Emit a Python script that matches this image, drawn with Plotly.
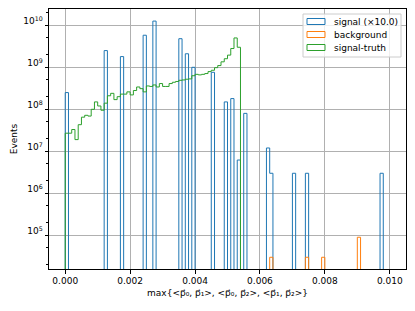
import numpy as np
import plotly.graph_objects as go

# ---------------- data ----------------
bin_edges = np.linspace(0.0, 0.01, 101)   # 100 bins

signal_bins = [0, 12, 17, 24, 27, 35, 37, 39, 45, 49, 51, 53, 55, 62, 63, 70, 74, 97]
signal_counts = [2.5e8, 2.5e9, 1.8e9, 5.8e9, 1.26e10, 4.8e9, 2.1e9, 1.0e9, 7.6e8,
                 1.5e8, 1.8e8, 6.2e6, 8.0e7, 1.2e7, 3.0e6, 3.0e6, 3.0e6, 3.0e6]

background_bins = [63, 74, 79, 90]
background_counts = [3.0e4, 3.0e4, 3.0e4, 9.0e4]

truth_counts = [2.7e7, 2.7e7, 3.3e7, 1.9e7, 4.3e7, 6.5e7, 7.2e7, 6.9e7, 1.0e8, 1.5e8,
                1.2e8, 9.5e7, 1.4e8, 2.1e8, 2.4e8, 1.7e8, 2.0e8, 2.3e8, 2.3e8, 2.6e8,
                2.2e8, 2.8e8, 3.4e8, 3.1e8, 2.6e8, 3.6e8, 3.5e8, 3.8e8, 3.4e8, 4.1e8,
                3.5e8, 3.5e8, 4.1e8, 4.4e8, 4.6e8, 4.9e8, 5.0e8, 5.2e8, 5.3e8, 6.3e8,
                6.8e8, 6.6e8, 6.8e8, 7.1e8, 7.9e8, 8.5e8, 9.8e8, 1.1e9, 1.35e9, 1.6e9,
                1.95e9, 2.8e9, 5.0e9, 3.0e9]

series_names = ["signal (×10.0)", "background", "signal-truth"]
series_colors = ["#1f77b4", "#ff7f0e", "#2ca02c"]

x_tick_vals = [0.000, 0.002, 0.004, 0.006, 0.008, 0.010]
x_tick_text = ["0.000", "0.002", "0.004", "0.006", "0.008", "0.010"]
y_tick_vals = [1e5, 1e6, 1e7, 1e8, 1e9, 1e10]
y_tick_text = ["10<sup>5</sup>", "10<sup>6</sup>", "10<sup>7</sup>", "10<sup>8</sup>",
               "10<sup>9</sup>", "10<sup>10</sup>"]

x_title = "max{<p\u20d7₀, p\u20d7₁>, <p\u20d7₀, p\u20d7₂>, <p\u20d7₁, p\u20d7₂>}"
y_title = "Events"

FLOOR = 1.0  # stands in for empty bins on the log axis (below visible range)


def full_counts(bins, counts):
    arr = np.zeros(len(bin_edges) - 1)
    arr[list(bins)] = counts
    return arr


def step_xy(counts):
    c = np.where(np.asarray(counts) > 0, counts, FLOOR)
    xs = np.concatenate([[bin_edges[0]], bin_edges])
    ys = np.concatenate([[FLOOR], c, [FLOOR]])
    return xs, ys


sig = full_counts(signal_bins, signal_counts)
bkg = full_counts(background_bins, background_counts)
tru = full_counts(range(len(truth_counts)), truth_counts)

FONT = "DejaVu Sans"
W, H = 415, 311
ML, MR, MT, MB = 49, 9, 9, 42
PW, PH = W - ML - MR, H - MT - MB

fig = go.Figure()

for counts, name, color in zip([sig, bkg, tru], series_names, series_colors):
    xs, ys = step_xy(counts)
    fig.add_trace(go.Scatter(x=xs, y=ys, mode="lines",
                             line=dict(color=color, width=1.0, shape="hv", simplify=False),
                             name=name, showlegend=False, hoverinfo="skip"))


# ---- matplotlib-style legend (box, rectangle handles, labels) ----
def px_x(px):
    return (px - ML) / PW


def px_y(py):
    return (H - MB - py) / PH


shapes = [dict(type="rect", xref="paper", yref="paper",
               x0=px_x(303), x1=px_x(401), y0=px_y(57), y1=px_y(14),
               fillcolor="rgba(255,255,255,0.8)", line=dict(color="#cccccc", width=1), layer="above")]
annotations = []
row_y = [21.5, 34.5, 47.5]
for name, color, ry in zip(series_names, series_colors, row_y):
    shapes.append(dict(type="rect", xref="paper", yref="paper",
                       x0=px_x(307), x1=px_x(325), y0=px_y(ry + 3), y1=px_y(ry - 3),
                       fillcolor="rgba(0,0,0,0)", line=dict(color=color, width=1), layer="above"))
    annotations.append(dict(xref="paper", yref="paper", x=px_x(332), y=px_y(ry),
                            xanchor="left", yanchor="middle", text=name, showarrow=False,
                            font=dict(family=FONT, size=9, color="black")))

fig.update_layout(
    width=W, height=H,
    margin=dict(l=ML, r=MR, t=MT, b=MB),
    paper_bgcolor="white", plot_bgcolor="white",
    font=dict(family=FONT, size=9, color="black"),
    showlegend=False,
    shapes=shapes, annotations=annotations,
)

fig.update_xaxes(
    range=[-0.0005, 0.0105], tickvals=x_tick_vals, ticktext=x_tick_text,
    showline=True, linecolor="black", linewidth=1, mirror=True,
    ticks="outside", ticklen=3.5, tickcolor="black", tickwidth=0.8,
    showgrid=True, gridcolor="#b0b0b0", gridwidth=0.8, zeroline=False,
    automargin=False,
    title=dict(text=x_title, font=dict(family=FONT, size=9), standoff=4),
)
fig.update_yaxes(
    type="log", range=[4.198, 10.388], tickvals=y_tick_vals, ticktext=y_tick_text,
    showline=True, linecolor="black", linewidth=1, mirror=True,
    ticks="outside", ticklen=3.5, tickcolor="black", tickwidth=0.8,
    ticklabelshift=-4,
    minor=dict(ticks="outside", ticklen=2, tickcolor="black", tickwidth=0.6, showgrid=False),
    showgrid=True, gridcolor="#b0b0b0", gridwidth=0.8, zeroline=False,
    automargin=False,
    title=dict(text=y_title, font=dict(family=FONT, size=9), standoff=4),
)

fig.write_html("out.html", config={"displayModeBar": False},
               post_script="document.body.style.margin='0';")
